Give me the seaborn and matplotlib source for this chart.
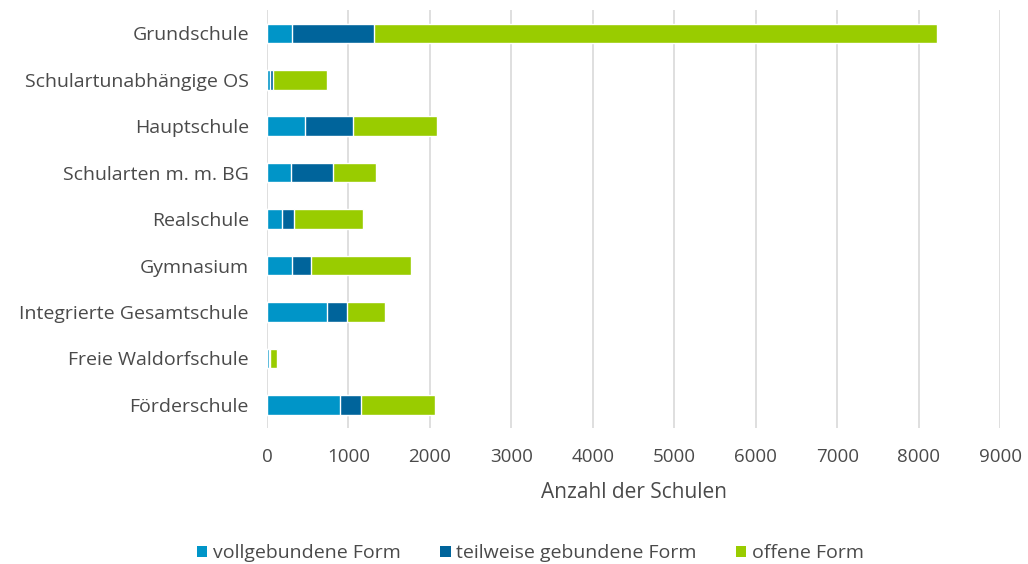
import numpy as np
import pandas as pd
import matplotlib
matplotlib.use("Agg")
import matplotlib.pyplot as plt
from matplotlib.patches import Patch
import seaborn as sns

schularten = [
    "Grundschule",
    "Schulartunabhängige OS",
    "Hauptschule",
    "Schularten m. m. BG",
    "Realschule",
    "Gymnasium",
    "Integrierte Gesamtschule",
    "Freie Waldorfschule",
    "Förderschule",
]
vollgebunden = [302, 38, 467, 290, 184, 303, 732, 20, 892]
teilweise = [1017, 33, 593, 516, 143, 233, 250, 21, 257]
offen = [6901, 671, 1028, 531, 855, 1235, 470, 82, 916]

series_names = ["vollgebundene Form", "teilweise gebundene Form", "offene Form"]
colors = ["#0095c8", "#00649b", "#99cc00"]
text_color = "#4a4a4a"

df = pd.DataFrame({
    "Schulart": schularten,
    "voll": vollgebunden,
    "teil": teilweise,
    "offen": offen,
})
# cumulative ends for stacked bars
df["end_voll"] = df["voll"]
df["end_teil"] = df["voll"] + df["teil"]
df["end_offen"] = df["end_teil"] + df["offen"]

sns.set_style("white")
plt.rcParams["font.family"] = ["Open Sans", "DejaVu Sans"]

fig = plt.figure(figsize=(10.28, 5.64), dpi=100)
ax = fig.add_axes([0.2597, 0.241, 0.9728 - 0.2597, 0.741])

for col, c in zip(["end_offen", "end_teil", "end_voll"], colors[::-1]):
    sns.barplot(data=df, x=col, y="Schulart", orient="h", color=c,
                width=0.42, saturation=1, ax=ax, zorder=3)

ax.set_xlim(0, 9000)
ax.set_ylim(8.5, -0.5)
ax.set_xticks(np.arange(0, 9001, 1000))
ax.grid(axis="x", color="#d9d9d9", linewidth=1.2, zorder=0)
for s in ax.spines.values():
    s.set_visible(False)
ax.tick_params(axis="x", colors="#d0d0d0", length=6, width=1, pad=8,
               labelcolor=text_color, labelsize=13.5)
ax.tick_params(axis="y", length=0, pad=13, labelcolor=text_color, labelsize=14)
ax.set_ylabel("")
ax.set_xlabel("Anzahl der Schulen", color=text_color, fontsize=15, labelpad=12)

handles = [Patch(facecolor=c, edgecolor="none") for c in colors]
fig.legend(handles, series_names, loc="lower center", bbox_to_anchor=(0.516, -0.028),
           ncol=3, frameon=False, fontsize=14, labelcolor=text_color,
           handlelength=0.55, handleheight=0.55, handletextpad=0.3, columnspacing=2.0)

fig.savefig("out.png", dpi=100)
